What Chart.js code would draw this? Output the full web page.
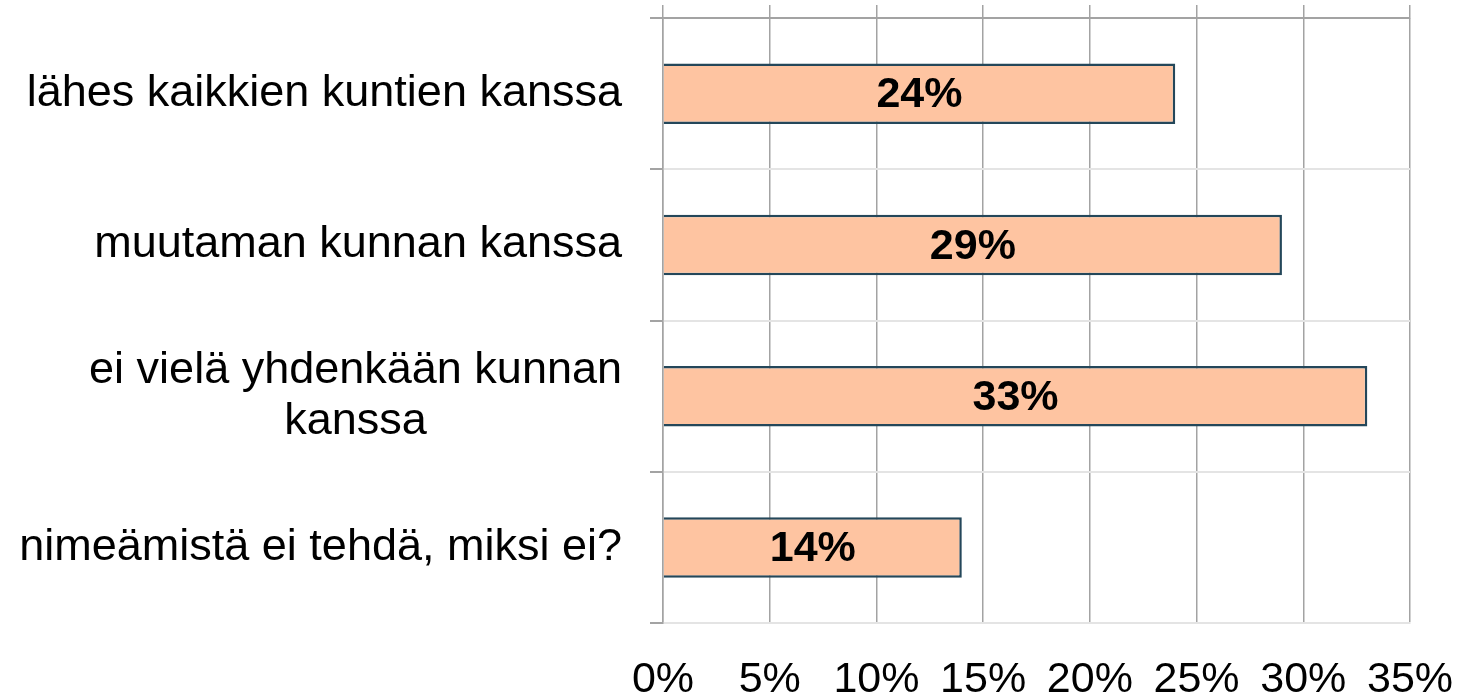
<!DOCTYPE html>
<html>
<head>
<meta charset="utf-8">
<title>Nimeäminen</title>
<script src="https://cdn.jsdelivr.net/npm/chart.js@4/dist/chart.umd.min.js"></script>
<style>
  html, body { margin: 0; padding: 0; background: #fff; }
  #wrap { width: 1467px; height: 699px; }
</style>
</head>
<body>
<div id="wrap"><canvas id="chart" width="1467" height="699"></canvas></div>
<script>
// data
const categories = [
    ['lähes kaikkien kuntien kanssa'],
    ['muutaman kunnan kanssa'],
    ['ei vielä yhdenkään kunnan', 'kanssa'],
    ['nimeämistä ei tehdä, miksi ei?']
];
const values = [24, 29, 33, 14];
const xTicks = [0, 5, 10, 15, 20, 25, 30, 35];

const FONT = '"Liberation Sans", Arial, sans-serif';
const GRID = '#a3a3a3';
const LIGHT = '#e4e4e4';
const LABEL_PAD = 28;

// category labels: block right aligned, lines centered inside the block
const catLabels = {
    id: 'catLabels',
    afterDraw(chart) {
        const scale = chart.scales.y;
        const ctx = chart.ctx;
        ctx.save();
        ctx.font = '45px ' + FONT;
        ctx.fillStyle = '#000';
        ctx.textBaseline = 'middle';
        ctx.textAlign = 'center';
        const right = scale.right - 13 - LABEL_PAD;
        const lh = 51;
        categories.forEach((lines, i) => {
            const cy = scale.getPixelForTick(i);
            const w = Math.max(...lines.map(l => ctx.measureText(l).width));
            const cx = right - w / 2;
            const y0 = cy - (lines.length - 1) * lh / 2;
            lines.forEach((l, j) => ctx.fillText(l, cx, y0 + j * lh));
        });
        ctx.restore();
    }
};

// value labels in the middle of each bar
const barLabels = {
    id: 'barLabels',
    afterDatasetsDraw(chart) {
        const ctx = chart.ctx;
        const meta = chart.getDatasetMeta(0);
        ctx.save();
        ctx.font = 'bold 43px ' + FONT;
        ctx.fillStyle = '#000';
        ctx.textAlign = 'center';
        ctx.textBaseline = 'middle';
        meta.data.forEach((bar, i) => {
            ctx.fillText(values[i] + '%', (bar.x + bar.base) / 2, bar.y + 2);
        });
        ctx.restore();
    }
};

new Chart(document.getElementById('chart'), {
    type: 'bar',
    data: {
        labels: categories,
        datasets: [{
            data: values,
            backgroundColor: '#fec4a1',
            borderColor: '#24475a',
            borderWidth: 2.5,
            barPercentage: 0.4,
            categoryPercentage: 1
        }]
    },
    options: {
        indexAxis: 'y',
        responsive: false,
        animation: false,
        layout: { padding: { top: 5, right: 0, bottom: 0, left: 0 } },
        plugins: {
            legend: { display: false },
            tooltip: { enabled: false }
        },
        scales: {
            x: {
                position: 'bottom',
                min: xTicks[0],
                max: xTicks[xTicks.length - 1],
                ticks: {
                    stepSize: 5,
                    padding: 31,
                    color: '#000',
                    font: { family: FONT, size: 43 },
                    callback: v => v + '%'
                },
                grid: { color: GRID, lineWidth: 1.5, drawTicks: false },
                border: { color: LIGHT, width: 2 },
                afterFit: s => {
                    s.height = 76;
                    s.paddingRight = 57;
                    s.paddingLeft = 0;
                }
            },
            x2: {
                position: 'top',
                min: xTicks[0],
                max: xTicks[xTicks.length - 1],
                ticks: { stepSize: 5, display: false },
                grid: {
                    color: GRID,
                    lineWidth: 1.5,
                    drawOnChartArea: false,
                    drawTicks: true,
                    tickLength: 13
                },
                border: { color: GRID, width: 1.5 },
                afterFit: s => {
                    s.paddingRight = 57;
                    s.paddingLeft = 0;
                }
            },
            y: {
                offset: true,
                ticks: {
                    color: 'rgba(0,0,0,0)',
                    padding: 0,
                    font: { family: FONT, size: 10 }
                },
                grid: {
                    offset: true,
                    tickLength: 13,
                    lineWidth: 2,
                    color: c => c.index === 0 ? GRID : LIGHT,
                    tickColor: GRID
                },
                border: { color: GRID, width: 1.5 },
                afterFit: s => {
                    s.width = 663;
                    s.paddingTop = 0;
                    s.paddingBottom = 0;
                }
            }
        }
    },
    plugins: [catLabels, barLabels]
});
</script>
</body>
</html>
